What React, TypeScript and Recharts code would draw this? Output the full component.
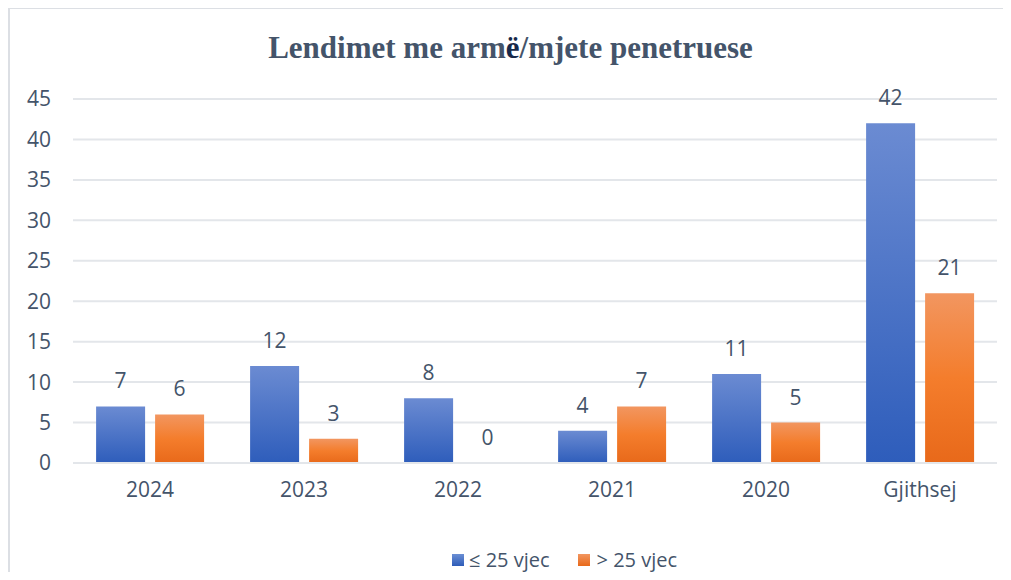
import React from 'react';
import {
  BarChart,
  Bar,
  XAxis,
  YAxis,
  CartesianGrid,
  Legend,
  LabelList
} from 'recharts';

const categories = ['2024', '2023', '2022', '2021', '2020', 'Gjithsej'];
const youngValues = [7, 12, 8, 4, 11, 42];
const olderValues = [6, 3, 0, 7, 5, 21];
const yTicks = [0, 5, 10, 15, 20, 25, 30, 35, 40, 45];
const seriesNames = ['≤ 25 vjec', '> 25 vjec'];

const data = categories.map((name, i) => ({
  name,
  young: youngValues[i],
  older: olderValues[i],
}));

const textColor = '#44546A';
const gridColor = '#e3e6ea';
const font = '"Open Sans", sans-serif';
const fontSize = 21;

// draws the value above the bar, also when the value is 0
const ValueLabel = (props: any) => {
  const { x, y, width, height, value } = props;
  const top = Math.min(y, y + height);
  return (
    <text
      x={x + width / 2}
      y={top - 26}
      textAnchor="middle"
      dominantBaseline="central"
      fill={textColor}
      fontFamily={font}
      fontSize={fontSize}
    >
      {value}
    </text>
  );
};

// tiny size so that a zero bar still gets its label
const keepZero = (value: any) => (value === 0 ? 0.01 : 0);

const LegendContent = () => (
  <div style={{ display: 'flex', alignItems: 'center', fontFamily: font, fontSize: 20, color: textColor }}>
    <span style={{ width: 12, height: 12, background: 'linear-gradient(#6b8fd4, #2e5cb8)', marginRight: 5 }} />
    <span style={{ marginRight: 28 }}>{seriesNames[0]}</span>
    <span style={{ width: 12, height: 12, background: 'linear-gradient(#f29660, #e8691a)', marginRight: 7 }} />
    <span>{seriesNames[1]}</span>
  </div>
);

export default function App() {
  return (
    <div
      style={{
        position: 'relative',
        boxSizing: 'border-box',
        width: 1003,
        height: 564,
        borderTop: '1px solid #dcdfe4',
        borderLeft: '2px solid #dcdfe4',
        background: '#fff',
        overflow: 'hidden',
      }}
    >
      <div
        style={{
          position: 'absolute',
          top: 21,
          left: 0,
          width: 1001,
          textAlign: 'center',
          fontFamily: '"Liberation Serif", "Times New Roman", serif',
          fontWeight: 'bold',
          fontSize: 31,
          color: textColor,
        }}
      >
        Lendimet me arm<span style={{ color: '#17294a' }}>ë</span>/mjete penetruese
      </div>
      <BarChart
        width={1001}
        height={563}
        data={data}
        margin={{ top: 90, right: 14, left: 9, bottom: 19 }}
        barGap={10}
        barCategoryGap="15%"
      >
        <defs>
          <linearGradient id="gBlue" x1="0" y1="0" x2="0" y2="1">
            <stop offset="0%" stopColor="#6b8bd2" />
            <stop offset="100%" stopColor="#2e5dbb" />
          </linearGradient>
          <linearGradient id="gOrange" x1="0" y1="0" x2="0" y2="1">
            <stop offset="0%" stopColor="#f29660" />
            <stop offset="50%" stopColor="#f47d2c" />
            <stop offset="100%" stopColor="#e8691a" />
          </linearGradient>
        </defs>
        <CartesianGrid vertical={false} stroke={gridColor} strokeWidth={2} />
        <XAxis
          dataKey="name"
          height={50}
          tickLine={false}
          axisLine={{ stroke: gridColor, strokeWidth: 2 }}
          tick={{ fill: textColor, fontFamily: font, fontSize }}
          tickMargin={13}
        />
        <YAxis
          width={54}
          domain={[0, 45]}
          ticks={yTicks}
          interval={0}
          tickLine={false}
          axisLine={false}
          tick={{ fill: textColor, fontFamily: font, fontSize }}
          tickMargin={16}
        />
        <Legend
          height={40}
          content={<LegendContent />}
          wrapperStyle={{ top: 537, left: 442, width: 'auto' }}
        />
        <Bar dataKey="young" name={seriesNames[0]} fill="url(#gBlue)" isAnimationActive={false}>
          <LabelList dataKey="young" content={<ValueLabel />} />
        </Bar>
        <Bar dataKey="older" name={seriesNames[1]} fill="url(#gOrange)" minPointSize={keepZero} isAnimationActive={false}>
          <LabelList dataKey="older" content={<ValueLabel />} />
        </Bar>
      </BarChart>
    </div>
  );
}
